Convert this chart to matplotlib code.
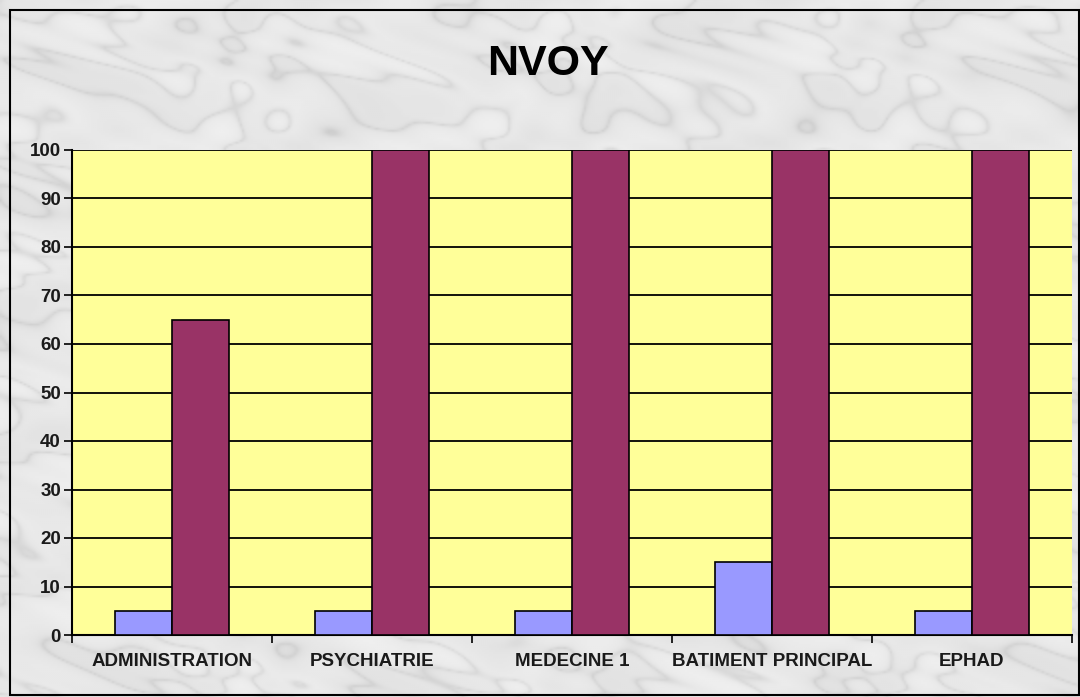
import numpy as np
import matplotlib
matplotlib.use("Agg")
import matplotlib.pyplot as plt
from matplotlib.patches import Rectangle

categories = ["ADMINISTRATION", "PSYCHIATRIE", "MEDECINE 1", "BATIMENT PRINCIPAL", "EPHAD"]
series_blue = [5, 5, 5, 15, 5]
series_red = [65, 100, 100, 100, 100]
yticks = [0, 10, 20, 30, 40, 50, 60, 70, 80, 90, 100]
title = "NVOY"

plt.rcParams['font.family'] = ['Liberation Sans', 'DejaVu Sans']

W, H = 1080, 697
fig = plt.figure(figsize=(W / 100, H / 100), dpi=100)

# marble-like background (deterministic texture)
bg = fig.add_axes([0, 0, 1, 1], zorder=-10)
yy, xx = np.mgrid[0:H:2, 0:W:2].astype(float)
tex = (np.sin(xx / 37.0 + np.sin(yy / 23.0) * 2.5) * 0.5
       + np.sin((xx + yy) / 19.0 + np.cos(xx / 51.0) * 3.0) * 0.3
       + np.sin((xx - 2 * yy) / 11.0 + np.sin(yy / 17.0) * 2.0) * 0.2)
veins = np.abs(np.sin((xx * 0.6 - yy) / 45.0 + tex * 1.8))
val = 0.91 - 0.08 * np.exp(-veins * 6) - 0.025 * tex
bg.imshow(np.clip(val, 0, 1), cmap='gray', vmin=0, vmax=1, aspect='auto',
          extent=[0, 1, 0, 1], interpolation='bilinear')
bg.set_xlim(0, 1)
bg.set_ylim(0, 1)
bg.axis('off')
bg.add_patch(Rectangle((10 / W, 2 / H), (W - 11) / W, (H - 12) / H,
                       fill=False, edgecolor='black', linewidth=1.5))

ax = fig.add_axes([72 / W, (H - 635) / H, 1000 / W, 485 / H])
ax.set_facecolor('#FFFF99')

x = np.arange(len(categories))
bw = 0.285
ax.bar(x - bw / 2, series_blue, width=bw, color='#9999FF', edgecolor='black', linewidth=1.2, zorder=3)
ax.bar(x + bw / 2, series_red, width=bw, color='#993366', edgecolor='black', linewidth=1.2, zorder=3)

ax.set_xlim(-0.5, len(categories) - 0.5)
ax.set_ylim(0, 100)
ax.set_yticks(yticks)
ax.set_yticklabels([str(v) for v in yticks], fontsize=13.5, fontweight='bold', color='#1a1a1a')
ax.yaxis.grid(True, color='black', linewidth=1.3, zorder=1)
ax.set_axisbelow(True)

ax.set_xticks(x)
ax.set_xticklabels(categories, fontsize=13.5, fontweight='bold', color='#1a1a1a')
ax.set_xticks(np.arange(len(categories) + 1) - 0.5, minor=True)
ax.tick_params(axis='x', which='major', length=0, pad=13)
ax.tick_params(axis='x', which='minor', length=6, width=1.2, color='black')
ax.tick_params(axis='y', length=6, width=1.2, color='black', pad=2)

for s in ['top', 'right']:
    ax.spines[s].set_visible(False)
for s in ['left', 'bottom']:
    ax.spines[s].set_color('black')
    ax.spines[s].set_linewidth(1.5)

fig.text(548 / W, 1 - 64 / H, title, ha='center', va='center',
         fontsize=31, fontweight='bold', color='black')

fig.savefig('out.png', dpi=100)
